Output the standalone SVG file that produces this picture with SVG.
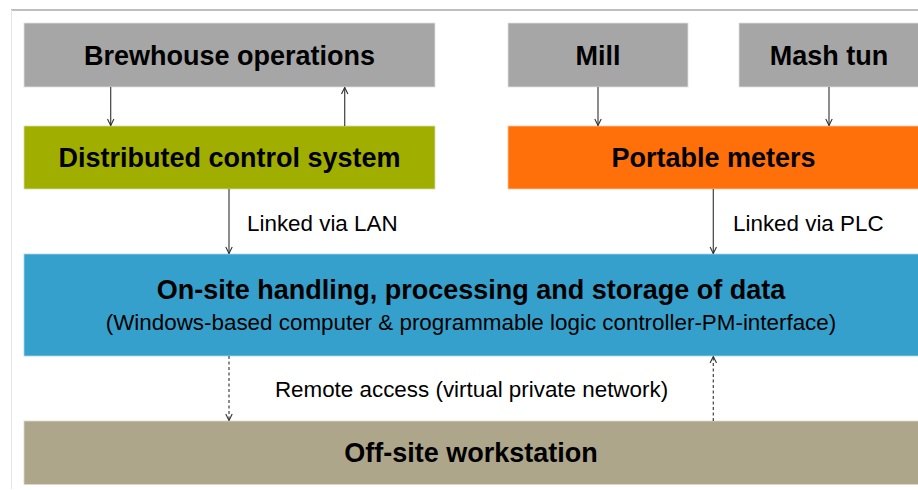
<svg xmlns="http://www.w3.org/2000/svg" width="918" height="490" viewBox="0 0 918 490">
  <defs>
    <marker id="arr" viewBox="0 0 10 10" refX="9" refY="5" markerWidth="8" markerHeight="8" markerUnits="userSpaceOnUse" orient="auto">
      <path d="M1,1 L9,5 L1,9" fill="none" stroke="#333" stroke-width="1.4"/>
    </marker>
  </defs>
  <style>
    .title { font-family: "Liberation Sans", Arial, sans-serif; font-weight: bold; font-size: 27px; fill: #000; text-anchor: middle; }
    .label { font-family: "Liberation Sans", Arial, sans-serif; font-size: 22.4px; fill: #000; }
    .conn { stroke: #404040; stroke-width: 1.2; fill: none; marker-end: url(#arr); }
    .dash { stroke-dasharray: 3 2.5; }
  </style>
  <rect x="0" y="0" width="918" height="490" fill="#fff"/>
  <line x1="11" y1="10" x2="918" y2="10" stroke="#808080" stroke-width="1.2"/>
  <line x1="11.5" y1="10" x2="11.5" y2="489" stroke="#e6e6e6" stroke-width="1"/>

  <g id="brewhouse">
    <rect x="24" y="23" width="411" height="64" fill="#a6a6a6" stroke="#e0e0e0" stroke-width="0.8"/>
    <text class="title" x="229.5" y="64.7">Brewhouse operations</text>
  </g>
  <g id="mill">
    <rect x="508" y="23" width="180" height="64" fill="#a6a6a6" stroke="#e0e0e0" stroke-width="0.8"/>
    <text class="title" x="598" y="64.7">Mill</text>
  </g>
  <g id="mashtun">
    <rect x="739" y="23" width="185" height="64" fill="#a6a6a6" stroke="#e0e0e0" stroke-width="0.8"/>
    <text class="title" x="829" y="64.7">Mash tun</text>
  </g>
  <g id="dcs">
    <rect x="24" y="126" width="411" height="63" fill="#a0ae00" stroke="#d8dcb0" stroke-width="0.8"/>
    <text class="title" x="229.5" y="167">Distributed control system</text>
  </g>
  <g id="portable">
    <rect x="508" y="126" width="416" height="63" fill="#ff6f0a" stroke="#ffc8a0" stroke-width="0.8"/>
    <text class="title" x="713.5" y="167">Portable meters</text>
  </g>
  <g id="onsite">
    <rect x="24" y="254" width="900" height="102" fill="#36a0cc" stroke="#a8d4e8" stroke-width="0.8"/>
    <text class="title" x="471" y="299.3">On-site handling, processing and storage of data</text>
    <text class="label" x="471" y="330" text-anchor="middle">(Windows-based computer &amp; programmable logic controller-PM-interface)</text>
  </g>
  <g id="offsite">
    <rect x="24" y="421" width="900" height="63.5" fill="#aea68a" stroke="#dcd8c8" stroke-width="0.8"/>
    <text class="title" x="471" y="462">Off-site workstation</text>
  </g>

  <g id="connectors">
    <line class="conn" x1="110.7" y1="87" x2="110.7" y2="125.5"/>
    <line class="conn" x1="344.7" y1="126" x2="344.7" y2="87.5"/>
    <line class="conn" x1="598" y1="87" x2="598" y2="125.5"/>
    <line class="conn" x1="829" y1="87" x2="829" y2="125.5"/>
    <line class="conn" x1="229" y1="189" x2="229" y2="253.5"/>
    <line class="conn" x1="713.3" y1="189" x2="713.3" y2="253.5"/>
    <line class="conn dash" x1="229" y1="356" x2="229" y2="420.5"/>
    <line class="conn dash" x1="713.3" y1="421" x2="713.3" y2="356.5"/>
    <text class="label" x="247" y="230.5">Linked via LAN</text>
    <text class="label" x="733" y="230.5">Linked via PLC</text>
    <text class="label" x="471.5" y="396.7" text-anchor="middle">Remote access (virtual private network)</text>
  </g>
</svg>
